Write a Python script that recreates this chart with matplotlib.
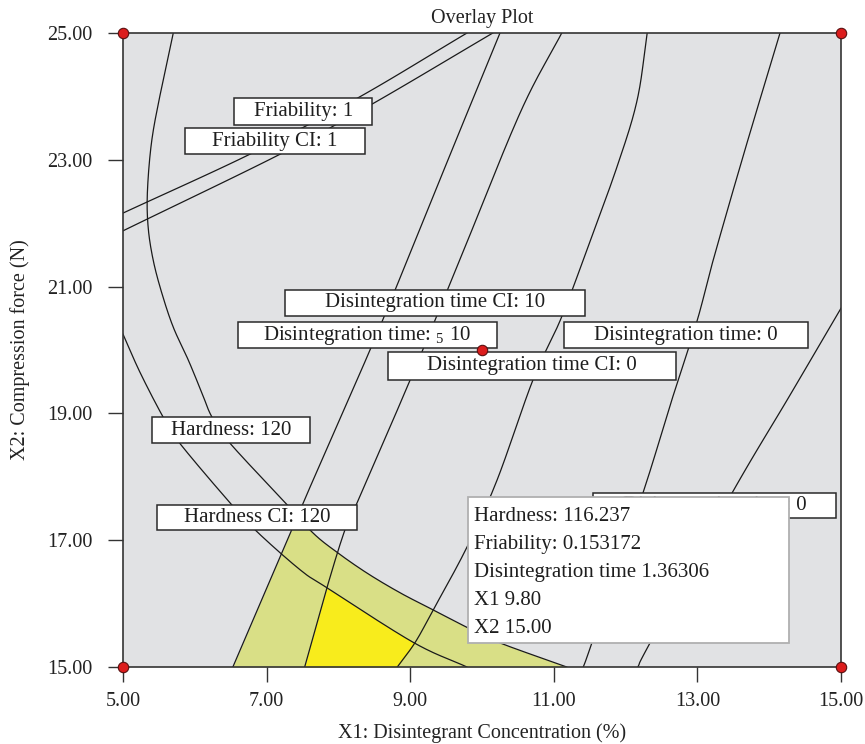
import numpy as np
import matplotlib.pyplot as plt
from matplotlib.patches import Rectangle

plt.rcParams['font.family'] = ['Liberation Serif', 'DejaVu Serif']
plt.rcParams['mathtext.fontset'] = 'custom'
plt.rcParams['mathtext.rm'] = 'Liberation Serif'

# contour lines (X1 %, X2 N)
hard_outer_x = [5.70, 5.53, 5.40, 5.34, 5.35, 5.42, 5.54, 5.70, 5.91, 6.10, 6.24, 6.49, 7.26, 7.65,
                7.98, 8.40, 8.86, 9.32, 9.80, 10.25, 11.18]
hard_outer_y = [25.0, 24.10, 23.30, 22.50, 21.94, 21.42, 20.90, 20.36, 19.84, 19.32, 18.94, 18.53, 17.59, 17.11,
                16.81, 16.48, 16.17, 15.90, 15.62, 15.38, 15.0]
hard_inner_x = [5.0, 5.24, 5.56, 5.79, 6.49, 6.87, 7.47, 7.84, 9.04, 9.79]
hard_inner_y = [20.25, 19.64, 18.94, 18.53, 17.59, 17.13, 16.53, 16.25, 15.39, 15.0]

fri_x = [5.0, 6.77, 8.26, 9.79]
fri_y = [22.16, 23.09, 23.97, 25.0]
fri_ci_x = [5.0, 7.19, 8.47, 10.15]
fri_ci_y = [21.88, 23.09, 23.88, 25.0]

dt1_x = [6.53, 7.51, 8.44, 8.96, 9.58, 10.25]
dt1_y = [15.0, 17.59, 20.00, 21.42, 23.15, 25.0]
dt2_x = [7.53, 7.84, 8.09, 8.26, 9.00, 9.69, 10.53, 11.11]
dt2_y = [15.0, 16.25, 17.16, 17.59, 19.53, 21.42, 23.74, 25.0]
dt3_x = [8.82, 9.07, 9.32, 9.79, 10.21, 10.71, 11.09, 11.41, 11.88, 12.16, 12.30]
dt3_y = [15.0, 15.39, 15.90, 16.89, 17.95, 19.53, 20.47, 21.42, 22.89, 23.94, 25.0]
dt4_x = [11.41, 11.53, 12.24, 12.62, 12.99, 13.22, 13.66, 14.15]
dt4_y = [15.0, 15.38, 17.74, 19.13, 20.44, 21.42, 23.15, 25.0]
dt5_x = [12.17, 12.34, 13.48, 14.29, 15.0]
dt5_y = [15.0, 15.38, 17.74, 19.29, 20.66]

design_x = [5, 15, 5, 15, 10]
design_y = [25, 25, 15, 15, 20]

xticks = [5, 7, 9, 11, 13, 15]
yticks = [15, 17, 19, 21, 23, 25]

contour_labels = ["Friability: 1", "Friability CI: 1", "Disintegration time CI: 10",
                  "Disintegration time: ${}_5$ 10", "Disintegration time CI: 0",
                  "Disintegration time: 0", "Hardness: 120", "Hardness CI: 120",
                  "Disintegration time: 0"]
tooltip_lines = ["Hardness: 116.237", "Friability: 0.153172",
                 "Disintegration time 1.36306", "X1 9.80", "X2 15.00"]

# label boxes (x0, x1, y0, y1) in data units
label_boxes = [(6.55, 8.47, 23.55, 23.97), (5.86, 8.37, 23.09, 23.50),
               (7.26, 11.43, 20.54, 20.95), (6.60, 10.21, 20.03, 20.44),
               (8.69, 12.70, 19.53, 19.97), (11.14, 14.54, 20.03, 20.44),
               (5.40, 7.60, 18.53, 18.94), (5.47, 8.26, 17.16, 17.56),
               (11.55, 14.93, 17.35, 17.74)]
tip_box = (9.80, 14.28, 15.38, 17.68)

fs = 15
tfs = 14.5


def smooth(xs, ys, n=30):
    # catmull-rom through the read points
    p = np.column_stack([xs, ys]).astype(float)
    p = np.vstack([2 * p[0] - p[1], p, 2 * p[-1] - p[-2]])
    t = np.linspace(0, 1, n, endpoint=False)[:, None]
    out = []
    for i in range(1, len(p) - 2):
        p0, p1, p2, p3 = p[i - 1], p[i], p[i + 1], p[i + 2]
        out.append(0.5 * (2 * p1 + (-p0 + p2) * t + (2 * p0 - 5 * p1 + 4 * p2 - p3) * t ** 2
                          + (-p0 + 3 * p1 - 3 * p2 + p3) * t ** 3))
    out.append(p[-2][None, :])
    out = np.vstack(out)
    return out[:, 0], out[:, 1]


def x_of_y(xs, ys, yy):
    order = np.argsort(ys)
    return np.interp(yy, ys[order], xs[order])


curves = {}
for name, xs, ys in [('h_out', hard_outer_x, hard_outer_y), ('h_in', hard_inner_x, hard_inner_y),
                     ('fri', fri_x, fri_y), ('fri_ci', fri_ci_x, fri_ci_y),
                     ('dt1', dt1_x, dt1_y), ('dt2', dt2_x, dt2_y), ('dt3', dt3_x, dt3_y),
                     ('dt4', dt4_x, dt4_y), ('dt5', dt5_x, dt5_y)]:
    curves[name] = smooth(xs, ys)

fig = plt.figure(figsize=(8.65, 7.44), dpi=100)
ax = fig.add_axes([0.1422, 0.1035, 0.8301, 0.8521])
ax.set_facecolor('#e1e2e4')

# feasible regions
hx, hy = curves['h_out']
low = hy <= 19
yy = np.linspace(15, 18, 800)
left = x_of_y(*curves['dt1'], yy)
right = x_of_y(hx[low], hy[low], yy)
ax.fill_betweenx(yy, left, right, where=right > left, interpolate=True,
                 color='#d9df86', lw=0, zorder=1)

yy2 = np.linspace(15, 16.5, 600)
left2 = x_of_y(*curves['dt2'], yy2)
right2 = np.minimum(x_of_y(*curves['h_in'], yy2), x_of_y(*curves['dt3'], yy2))
ax.fill_betweenx(yy2, left2, right2, where=right2 > left2, interpolate=True,
                 color='#f8ec1c', lw=0, zorder=1)

for xs, ys in curves.values():
    ax.plot(xs, ys, color='#1a1a1a', lw=0.9, zorder=2)

for txt, (x0, x1, y0, y1) in zip(contour_labels, label_boxes):
    ax.add_patch(Rectangle((x0, y0), x1 - x0, y1 - y0, fc='white', ec='#2a2a2a',
                           lw=1.1, zorder=5))
    ax.text((x0 + x1) / 2, (y0 + y1) / 2, txt, ha='center', va='center',
            fontsize=fs, zorder=5.5, color='#1e1e1e')

# the tooltip sits on top of the last label
x0, x1, y0, y1 = tip_box
ax.add_patch(Rectangle((x0, y0), x1 - x0, y1 - y0, fc='white', ec='#b0b0b0',
                       lw=1.3, zorder=6))
for i, t in enumerate(tooltip_lines):
    ax.text(x0 + 0.09, y1 - 0.30 - i * 0.445, t, ha='left', va='center',
            fontsize=fs, zorder=6.5, color='#1e1e1e')

ax.plot(design_x, design_y, 'o', ms=7.5, mfc='#dc1c1c', mec='#5a1010', mew=0.8,
        zorder=8, clip_on=False)

ax.set_xlim(5, 15)
ax.set_ylim(15, 25)
ax.set_xticks(xticks)
ax.set_yticks(yticks)
ax.set_xticklabels([f"{v:.2f}" for v in xticks], fontsize=tfs)
ax.set_yticklabels([f"{v:.2f}" for v in yticks], fontsize=tfs)
ax.tick_params(length=11, width=1.0, color='#333333', labelcolor='#222222')
ax.tick_params(axis='x', pad=7)
ax.tick_params(axis='y', pad=11)
for s in ax.spines.values():
    s.set_color('#333333')
    s.set_linewidth(1.2)

ax.set_title("Overlay Plot", fontsize=tfs, pad=7, color='#222222')
ax.set_xlabel("X1: Disintegrant Concentration (%)", fontsize=tfs, labelpad=9, color='#222222')
ax.set_ylabel("X2: Compression force (N)", fontsize=tfs, labelpad=12, color='#222222')

fig.savefig("out.png", dpi=100)
